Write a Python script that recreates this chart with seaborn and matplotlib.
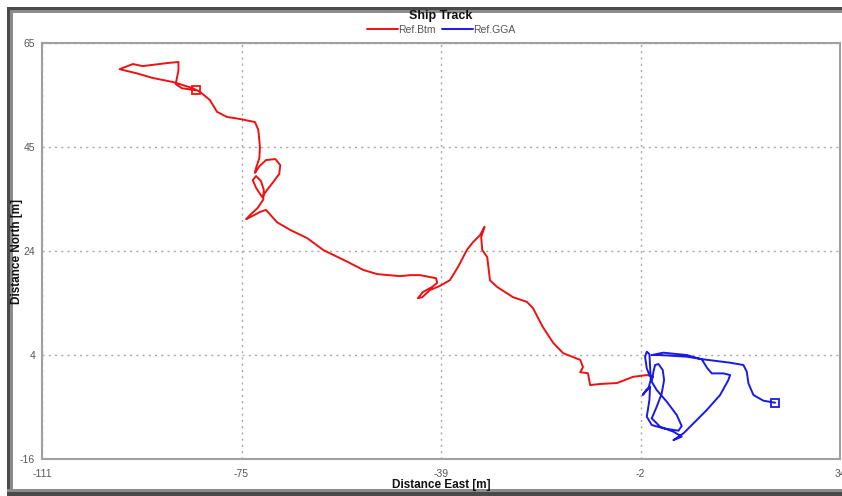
import numpy as np
import pandas as pd
import matplotlib
matplotlib.use("Agg")
import matplotlib.pyplot as plt
from matplotlib.patches import Rectangle
from matplotlib.lines import Line2D
import seaborn as sns

# Bottom-track referenced ship track, east / north offsets [m]
btm_east = [0.0, -1.05, -3.6, -6.5, -9.6, -11.4, -11.8, -13.2, -12.7, -13.2, -16.3, -18.1,
            -20.0, -21.8, -22.9, -25.4, -28.3, -29.6, -30.1, -31.0, -31.2, -30.6, -31.4,
            -32.7, -33.8, -35.4, -36.9, -38.7, -40.5, -41.9, -42.7, -41.8, -40.1, -39.2,
            -39.4, -42.3, -44.1, -45.9, -50.1, -52.6, -55.5, -59.9, -62.8, -65.9, -68.3,
            -70.3, -71.4, -72.8, -73.9, -73.2, -71.8, -70.8, -70.7, -71.2, -72.1, -72.7,
            -72.1, -71.0, -70.1, -69.0, -67.9, -67.7, -68.6, -70.3, -71.5, -72.3, -72.1,
            -71.5, -71.4, -71.7, -72.3, -75.0, -77.4, -79.2, -80.5, -82.3, -83.6, -87.2,
            -90.9, -93.8, -96.9, -94.5, -92.7, -88.2, -86.2, -86.2, -86.7, -85.6, -83.1]
btm_north = [0.0, 0.35, 0.0, -1.2, -1.4, -1.6, 0.7, 0.9, 1.9, 3.3, 4.6, 6.6,
             9.7, 13.4, 14.6, 15.5, 17.5, 18.8, 23.3, 24.7, 27.2, 29.2, 27.6,
             26.2, 24.7, 21.4, 18.8, 17.7, 16.9, 15.5, 15.3, 16.5, 17.5, 18.3,
             19.2, 19.8, 19.8, 19.6, 20.0, 20.8, 22.4, 24.7, 27.0, 28.6, 30.1,
             32.5, 32.1, 31.3, 30.7, 31.5, 32.9, 34.5, 36.4, 38.1, 39.1, 38.3,
             36.8, 35.0, 36.4, 37.9, 39.5, 41.2, 42.4, 42.2, 41.0, 39.7, 40.7,
             42.6, 44.8, 48.1, 49.6, 50.2, 50.6, 51.6, 53.9, 55.5, 56.2, 57.4,
             58.2, 59.1, 59.9, 60.9, 60.5, 61.1, 61.3, 59.7, 57.0, 56.2, 55.8]

# GPS (GGA) referenced ship track, east / north offsets [m]
gga_east = [0.0, -0.63, -1.11, -1.42, -1.11, -0.63, -0.51, -0.39, -0.81, -1.84, -1.24,
            -0.51, -0.63, -1.11, -0.21, 1.91, 4.64, 5.24, 4.34, 2.52, 0.70, -0.21, 0.10,
            0.40, 1.01, 1.79, 2.04, 1.61, 0.70, -0.21, 1.31, 3.73, 5.24, 3.73, 5.55,
            7.37, 9.79, 12.21, 13.72, 14.03, 12.81, 10.70, 9.91, 8.88, 6.16, 1.91,
            -0.21, 1.31, 6.16, 9.18, 14.03, 16.45, 17.06, 17.36, 18.27, 20.09, 22.21]
gga_north = [0.0, 0.35, 1.65, 3.92, 4.89, 4.44, 1.97, -0.62, -2.25, -3.53, -2.57,
             -1.92, -4.52, -7.76, -9.38, -10.03, -10.49, -9.58, -7.44, -4.84, -2.57,
             -0.95, 1.00, 2.30, 2.49, 1.32, -0.62, -3.22, -5.81, -8.09, -9.71, -10.68,
             -11.65, -12.32, -11.01, -9.06, -6.46, -3.54, -0.62, 0.35, 0.67, 0.67,
             1.65, 3.40, 4.24, 4.70, 4.24, 4.24, 3.92, 3.40, 2.75, 2.30, 1.00, -1.27,
             -3.54, -4.65, -5.04]

x_limits = [-111, 34]
y_limits = [-16, 65]
x_tick_labels = ["-111", "-75", "-39", "-2", "34"]
y_tick_labels = ["-16", "4", "24", "45", "65"]

series_names = ["Ref.Btm", "Ref.GGA"]
series_colors = ["#ee1111", "#1a1ae6"]

sns.set_style("white")
plt.rcParams["font.family"] = ["Liberation Sans", "DejaVu Sans"]

W, H = 842, 496
fig = plt.figure(figsize=(W / 100, H / 100), dpi=100)
fig.patch.set_facecolor("white")

# window frame
def px_rect(x0, y0, x1, y1, color):
    fig.add_artist(Rectangle((x0 / W, 1 - y1 / H), (x1 - x0) / W, (y1 - y0) / H,
                             transform=fig.transFigure, facecolor=color,
                             edgecolor="none", zorder=0))

px_rect(7, 7, W, 10, "#4a4a4a")
px_rect(7, 10, W, 13, "#8c8c8c")
px_rect(7, 7, 10, H, "#4a4a4a")
px_rect(10, 10, 13, H, "#8c8c8c")
px_rect(7, 489, W, 492, "#8c8c8c")
px_rect(7, 492, W, H, "#4a4a4a")

ax_l, ax_r, ax_t, ax_b = 42, 840, 43, 459
ax = fig.add_axes([ax_l / W, 1 - ax_b / H, (ax_r - ax_l) / W, (ax_b - ax_t) / H])
ax.set_facecolor("white")

btm = pd.DataFrame({"east": btm_east, "north": btm_north})
gga = pd.DataFrame({"east": gga_east, "north": gga_north})

sns.lineplot(data=btm, x="east", y="north", sort=False, estimator=None,
             color=series_colors[0], lw=1.4, ax=ax, zorder=3)
sns.lineplot(data=gga, x="east", y="north", sort=False, estimator=None,
             color=series_colors[1], lw=1.4, ax=ax, zorder=3)

# end-of-track markers
ax.plot(btm_east[-1], btm_north[-1], marker="s", ms=5.5, mfc="none",
        mec=series_colors[0], mew=1.3, zorder=4)
ax.plot(gga_east[-1], gga_north[-1], marker="s", ms=5.5, mfc="none",
        mec=series_colors[1], mew=1.3, zorder=4)

ax.set_xlim(*x_limits)
ax.set_ylim(*y_limits)
xt = np.linspace(x_limits[0], x_limits[1], len(x_tick_labels))
yt = np.linspace(y_limits[0], y_limits[1], len(y_tick_labels))
ax.set_xticks(xt)
ax.set_xticklabels(x_tick_labels)
ax.set_yticks(yt)
ax.set_yticklabels(y_tick_labels)
ax.set_xticks((xt[:-1] + xt[1:]) / 2, minor=True)
ax.set_yticks((yt[:-1] + yt[1:]) / 2, minor=True)

ax.tick_params(which="major", direction="out", length=4, width=1, color="#a0a0a0",
               labelsize=7.5, labelcolor="#555555")
ax.tick_params(which="minor", direction="in", length=3, width=1, color="#b0b0b0")
ax.tick_params(axis="x", pad=3)
ax.tick_params(axis="y", pad=1)

ax.grid(which="major", linestyle=(0, (1.5, 3)), color="#a8a8a8", lw=1)
for s in ax.spines.values():
    s.set_color("#a0a0a0")
    s.set_linewidth(1.5)

ax.set_xlabel("Distance East [m]", fontsize=8.5, fontweight="bold", color="#111111")
ax.set_ylabel("Distance North [m]", fontsize=8.5, fontweight="bold", color="#111111")
ax.xaxis.set_label_coords(0.5, -(485 - ax_b) / (ax_b - ax_t))
ax.xaxis.label.set_va("center")
ax.yaxis.set_label_coords(-(ax_l - 17) / (ax_r - ax_l), 0.5)
ax.yaxis.label.set_va("center")

fig.text(441 / W, 1 - 16 / H, "Ship Track", ha="center", va="center",
         fontsize=9, fontweight="bold", color="#111111")

handles = [Line2D([], [], color=c, lw=1.4) for c in series_colors]
leg = fig.legend(handles, series_names, loc="center", bbox_to_anchor=(441 / W, 1 - 30 / H),
                 ncol=2, frameon=False, fontsize=7.5, handlelength=3, handletextpad=0.0,
                 columnspacing=0.6, borderpad=0)
for t in leg.get_texts():
    t.set_color("#555555")

fig.savefig("out.png", dpi=100)
